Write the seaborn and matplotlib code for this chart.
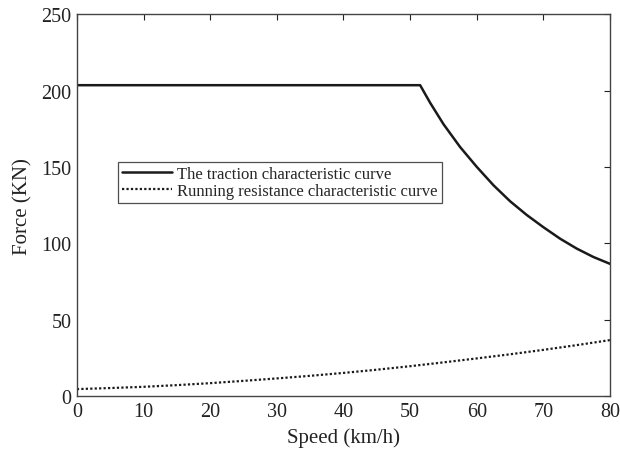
import matplotlib
matplotlib.use("Agg")
import matplotlib.pyplot as plt
import seaborn as sns
import pandas as pd

# Traction characteristic curve
traction_speed = [0, 10, 20, 30, 40, 50, 51.5, 53, 55, 57.5, 60, 62.5, 65, 67.5, 70, 72.5, 75, 77.5, 80]
traction_force = [203.5, 203.5, 203.5, 203.5, 203.5, 203.5, 203.5, 192, 178, 163, 150, 138, 127.5, 118.5, 110.5, 103, 96.5, 91, 86.5]

# Running resistance characteristic curve
resist_speed = [0, 5, 10, 15, 20, 25, 30, 35, 40, 45, 50, 55, 60, 65, 70, 75, 80]
resist_force = [4.5, 5.2, 6.0, 7.1, 8.4, 9.9, 11.5, 13.2, 15.1, 17.2, 19.5, 22.0, 24.6, 27.3, 30.2, 33.3, 36.6]

x_ticks = [0, 10, 20, 30, 40, 50, 60, 70, 80]
y_ticks = [0, 50, 100, 150, 200, 250]

sns.set_theme(style="white")
plt.rcParams['font.family'] = ['Liberation Serif', 'DejaVu Serif']
plt.rcParams['mathtext.fontset'] = 'stix'

fig = plt.figure(figsize=(6.2, 4.6), dpi=100)
ax = fig.add_axes([0.124, 0.137, 0.860, 0.830])

df_t = pd.DataFrame({"speed": traction_speed, "force": traction_force})
df_r = pd.DataFrame({"speed": resist_speed, "force": resist_force})

sns.lineplot(data=df_t, x="speed", y="force", ax=ax, color="#1a1a1a", linewidth=1.8,
             label="The traction characteristic curve")
sns.lineplot(data=df_r, x="speed", y="force", ax=ax, color="#1a1a1a", linewidth=1.6,
             linestyle=(0, (1, 1)), label="Running resistance characteristic curve")

ax.set_xlim(0, 80)
ax.set_ylim(0, 250)
ax.set_xticks(x_ticks)
ax.set_yticks(y_ticks)
ax.set_xlabel("Speed (km/h)", fontsize=15, color="#222222", labelpad=5)
ax.set_ylabel("Force (KN)", fontsize=15, color="#222222", labelpad=6)
ax.tick_params(direction="in", length=4, width=0.8, top=True, right=True,
               labelsize=14.5, colors="#222222", pad=4)
for s in ax.spines.values():
    s.set_visible(True)
    s.set_color("#444444")
    s.set_linewidth(1.0)

leg = ax.legend(loc="upper left", bbox_to_anchor=(0.077, 0.613), fontsize=12,
                frameon=True, fancybox=False, borderpad=0.25, labelspacing=0.05,
                handlelength=3.0, handletextpad=0.3, borderaxespad=0)
leg.get_frame().set_edgecolor("#222222")
leg.get_frame().set_linewidth(0.9)

fig.savefig("out.png", dpi=100)
